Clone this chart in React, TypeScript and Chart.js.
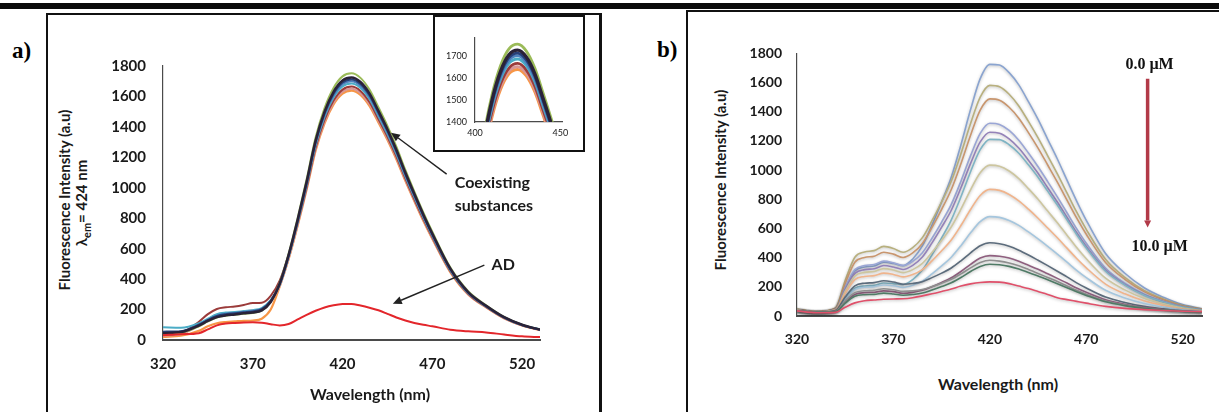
import React, { useEffect, useRef } from "react";
import { Chart, registerables } from "chart.js";

Chart.register(...registerables);

// ---------- shared axes ----------
const WL = [320, 330, 340, 345, 350, 355, 360, 365, 370, 375, 380, 385, 390, 395, 400, 405, 410, 415, 420, 425, 430, 435, 440, 445, 450, 455, 460, 465, 470, 480, 490, 500, 510, 520, 530];
const X_TICKS = [320, 370, 420, 470, 520];
const Y_TICKS = [0, 200, 400, 600, 800, 1000, 1200, 1400, 1600, 1800];
const INSET_X_TICKS = [400, 450];
const INSET_Y_TICKS = [1400, 1500, 1600, 1700];

// ---------- panel a: coexisting substances + AD ----------
const A_BLACK = [45, 52, 95, 125, 150, 162, 168, 175, 180, 195, 250, 370, 560, 790, 1040, 1310, 1500, 1630, 1705, 1725, 1695, 1620, 1505, 1385, 1250, 1100, 960, 825, 700, 470, 315, 225, 150, 100, 68];
const A_GREEN = [40, 48, 90, 122, 148, 160, 166, 172, 178, 192, 252, 376, 569, 802, 1056, 1331, 1524, 1656, 1732, 1752, 1722, 1645, 1529, 1407, 1270, 1117, 975, 838, 711, 477, 320, 228, 152, 101, 69];
const A_NAVY = [55, 58, 100, 132, 158, 170, 176, 182, 188, 203, 258, 367, 556, 784, 1032, 1300, 1489, 1618, 1692, 1712, 1682, 1608, 1494, 1375, 1241, 1092, 953, 819, 695, 466, 313, 223, 149, 99, 67];
const A_BLUE = [50, 55, 98, 130, 160, 172, 178, 185, 190, 205, 258, 365, 552, 779, 1025, 1291, 1478, 1606, 1680, 1700, 1670, 1596, 1483, 1365, 1232, 1084, 946, 813, 690, 463, 310, 222, 148, 99, 67];
const A_CYAN = [83, 80, 110, 140, 170, 180, 184, 190, 196, 210, 262, 361, 547, 772, 1016, 1280, 1466, 1593, 1666, 1685, 1656, 1583, 1470, 1353, 1221, 1075, 938, 806, 684, 459, 308, 220, 147, 98, 70];
const A_DARKRED = [35, 45, 120, 170, 204, 215, 220, 230, 243, 245, 290, 390, 560, 770, 1004, 1264, 1448, 1573, 1645, 1665, 1636, 1563, 1452, 1337, 1206, 1062, 926, 796, 676, 454, 304, 217, 145, 97, 66];
const A_ROSE = [28, 38, 95, 135, 165, 175, 180, 188, 195, 205, 250, 354, 536, 756, 995, 1253, 1435, 1559, 1631, 1650, 1621, 1550, 1440, 1325, 1196, 1052, 918, 789, 670, 450, 301, 215, 143, 96, 65];
const A_ORANGE = [20, 28, 60, 90, 110, 118, 122, 126, 128, 140, 200, 351, 532, 750, 988, 1244, 1424, 1548, 1619, 1638, 1610, 1538, 1429, 1315, 1187, 1045, 912, 783, 665, 446, 299, 214, 142, 95, 65];
const A_AD = [32, 38, 45, 70, 96, 108, 112, 115, 116, 114, 104, 96, 105, 135, 165, 192, 214, 228, 236, 237, 226, 212, 195, 172, 148, 128, 112, 100, 90, 68, 57, 50, 36, 24, 19];

// ---------- panel b: 0.0 -> 10.0 µM ----------
const B_S1 = [45, 30, 47, 190, 309, 336, 343, 368, 360, 345, 391, 480, 623, 783, 953, 1174, 1415, 1627, 1725, 1720, 1668, 1584, 1469, 1347, 1211, 1076, 931, 788, 656, 428, 293, 194, 128, 78, 50];
const B_S2 = [48, 30, 56, 245, 403, 439, 448, 477, 463, 437, 469, 537, 653, 783, 925, 1112, 1319, 1500, 1581, 1571, 1520, 1440, 1334, 1221, 1098, 974, 844, 713, 594, 389, 265, 176, 117, 72, 47];
const B_S3 = [44, 30, 53, 225, 369, 401, 410, 437, 424, 401, 432, 497, 607, 731, 867, 1044, 1239, 1411, 1488, 1479, 1431, 1356, 1257, 1151, 1035, 918, 795, 672, 560, 367, 251, 167, 111, 69, 45];
const B_S4 = [42, 28, 48, 195, 318, 346, 353, 376, 365, 346, 375, 434, 533, 644, 765, 924, 1099, 1252, 1321, 1313, 1272, 1205, 1117, 1023, 921, 817, 708, 599, 499, 329, 225, 151, 101, 64, 42];
const B_S5 = [42, 28, 46, 180, 292, 318, 324, 346, 336, 319, 347, 404, 501, 609, 725, 879, 1046, 1193, 1260, 1253, 1214, 1151, 1068, 978, 879, 781, 677, 572, 477, 314, 216, 145, 97, 62, 41];
const B_S6 = [40, 27, 36, 120, 190, 206, 210, 226, 222, 215, 250, 315, 419, 535, 659, 817, 989, 1140, 1211, 1209, 1174, 1116, 1036, 951, 856, 761, 660, 559, 466, 307, 212, 142, 96, 61, 41];
const B_S7 = [40, 27, 44, 170, 275, 299, 305, 325, 315, 297, 318, 361, 436, 519, 611, 732, 865, 982, 1034, 1027, 994, 942, 873, 800, 719, 639, 554, 469, 392, 259, 179, 121, 83, 54, 37];
const B_S8 = [40, 26, 42, 155, 250, 271, 277, 294, 285, 268, 284, 318, 378, 447, 521, 620, 730, 826, 868, 861, 833, 789, 732, 670, 603, 536, 465, 394, 330, 219, 152, 104, 72, 48, 34];
const B_S9 = [38, 26, 35, 115, 182, 197, 201, 213, 207, 196, 210, 239, 288, 343, 403, 482, 570, 647, 681, 676, 655, 621, 576, 528, 477, 424, 369, 313, 263, 176, 124, 86, 61, 42, 31];
const B_S10 = [38, 25, 38, 130, 207, 225, 229, 242, 233, 218, 223, 235, 263, 294, 329, 378, 433, 482, 502, 495, 478, 451, 418, 382, 345, 307, 268, 227, 192, 130, 93, 66, 49, 35, 28];
const B_S11 = [36, 25, 32, 95, 148, 160, 163, 172, 167, 156, 162, 176, 201, 230, 262, 305, 354, 397, 414, 410, 397, 375, 348, 320, 289, 258, 226, 192, 163, 112, 81, 59, 44, 33, 27];
const B_S12 = [38, 26, 33, 103, 160, 173, 177, 187, 180, 169, 172, 182, 202, 225, 252, 289, 330, 366, 382, 376, 363, 344, 319, 292, 264, 236, 206, 176, 149, 103, 75, 55, 42, 32, 26];
const B_S13 = [36, 25, 31, 88, 135, 146, 148, 157, 151, 142, 147, 157, 178, 202, 228, 264, 305, 340, 355, 351, 340, 322, 298, 274, 248, 221, 193, 166, 141, 97, 71, 53, 40, 31, 26];
const B_S14 = [35, 22, 25, 60, 90, 105, 110, 115, 117, 118, 125, 138, 152, 168, 185, 205, 220, 230, 234, 232, 222, 205, 188, 168, 148, 125, 112, 100, 88, 66, 52, 44, 38, 33, 30];

// ---------- text ----------
const Y_TITLE = "Fluorescence Intensity (a.u)";
const X_TITLE = "Wavelength (nm)";
const NOTE_COEX = ["Coexisting", "substances"];
const NOTE_AD = "AD";
const NOTE_START = "0.0 µM";
const NOTE_END = "10.0 µM";

// ---------- styles ----------
const TICK_FONT = { family: "Lato", weight: "bold" as const, size: 15 };
const TICK_FONT_B = { family: "Lato", weight: "bold" as const, size: 14 };
const INSET_FONT = { family: "Lato", size: 9 };

const A_STYLE = [
  { data: A_AD, color: "#e3262b", width: 2 },
  { data: A_BLACK, color: "#2a2238", width: 2.5 },
  { data: A_NAVY, color: "#273f78", width: 2 },
  { data: A_BLUE, color: "#4f81bd", width: 2 },
  { data: A_CYAN, color: "#4bacc6", width: 2 },
  { data: A_GREEN, color: "#9bbb59", width: 2 },
  { data: A_DARKRED, color: "#9b3b3a", width: 2 },
  { data: A_ROSE, color: "#d99694", width: 2 },
  { data: A_ORANGE, color: "#f79646", width: 2.2 },
];

const B_STYLE = [
  { data: B_S14, color: "#e0506a" },
  { data: B_S13, color: "#4f7b66" },
  { data: B_S12, color: "#8f8f8f" },
  { data: B_S11, color: "#8f5f7f" },
  { data: B_S10, color: "#5c6c7c" },
  { data: B_S9, color: "#a5c6de" },
  { data: B_S8, color: "#f0b48c" },
  { data: B_S7, color: "#cdc69f" },
  { data: B_S6, color: "#7fb4c4" },
  { data: B_S5, color: "#9482b9" },
  { data: B_S4, color: "#9aa6d6" },
  { data: B_S3, color: "#c9966e" },
  { data: B_S2, color: "#b8b07e" },
  { data: B_S1, color: "#8aa4d0" },
];

const toPoints = (vals: number[]) => WL.map((x, i) => ({ x, y: vals[i] }));
const plain = (v: any) => String(v);

function xAxis(ticks: number[], min: number, max: number, font: any, padding: number, height: number, bw: number) {
  return {
    type: "linear" as const,
    min,
    max,
    afterBuildTicks: (ax: any) => {
      ax.ticks = ticks.map((v) => ({ value: v }));
    },
    afterFit: (ax: any) => {
      ax.height = height;
    },
    grid: { display: false, drawTicks: false },
    border: { display: true, color: "#4a4a4a", width: bw },
    ticks: { font, color: "#1a1a1a", padding, maxRotation: 0, autoSkip: false, callback: plain },
  };
}

function yAxis(ticks: number[], min: number, max: number, font: any, padding: number, width: number, bw: number) {
  return {
    type: "linear" as const,
    min,
    max,
    afterBuildTicks: (ax: any) => {
      ax.ticks = ticks.map((v) => ({ value: v }));
    },
    afterFit: (ax: any) => {
      ax.width = width;
    },
    grid: { display: false, drawTicks: false },
    border: { display: true, color: "#4a4a4a", width: bw },
    ticks: { font, color: "#1a1a1a", padding, autoSkip: false, callback: plain },
  };
}

function drawArrow(ctx: CanvasRenderingContext2D, x1: number, y1: number, x2: number, y2: number, color: string, lw: number, hl: number, hw: number) {
  const ang = Math.atan2(y2 - y1, x2 - x1);
  const bx = x2 - Math.cos(ang) * hl;
  const by = y2 - Math.sin(ang) * hl;
  ctx.save();
  ctx.strokeStyle = color;
  ctx.fillStyle = color;
  ctx.lineWidth = lw;
  ctx.beginPath();
  ctx.moveTo(x1, y1);
  ctx.lineTo(bx, by);
  ctx.stroke();
  ctx.beginPath();
  ctx.moveTo(x2, y2);
  ctx.lineTo(bx + Math.sin(ang) * hw, by - Math.cos(ang) * hw);
  ctx.lineTo(bx - Math.sin(ang) * hw, by + Math.cos(ang) * hw);
  ctx.closePath();
  ctx.fill();
  ctx.restore();
}

// annotation anchors (data units)
const A_COEX_POS = { x: 482.5, y1: 1035, y2: 880 };
const A_COEX_ARROW = { x1: 478, y1: 1090, x2: 447, y2: 1362 };
const A_AD_POS = { x: 503, y: 492 };
const A_AD_ARROW = { x1: 499, y1: 492, x2: 448, y2: 238 };
const B_START_POS = { x: 502.8, y: 1720 };
const B_END_POS = { x: 508, y: 473 };
const B_ARROW = { x: 501.8, y1: 1627, y2: 607 };

const notesA = {
  id: "notesA",
  afterDraw(chart: any) {
    const { ctx, scales } = chart;
    const X = (v: number) => scales.x.getPixelForValue(v);
    const Y = (v: number) => scales.y.getPixelForValue(v);
    ctx.save();
    ctx.font = "bold 16px Lato";
    ctx.fillStyle = "#1a1a1a";
    ctx.textAlign = "left";
    ctx.textBaseline = "middle";
    ctx.fillText(NOTE_COEX[0], X(A_COEX_POS.x), Y(A_COEX_POS.y1));
    ctx.fillText(NOTE_COEX[1], X(A_COEX_POS.x), Y(A_COEX_POS.y2));
    ctx.fillText(NOTE_AD, X(A_AD_POS.x), Y(A_AD_POS.y));
    ctx.restore();
    drawArrow(ctx, X(A_COEX_ARROW.x1), Y(A_COEX_ARROW.y1), X(A_COEX_ARROW.x2), Y(A_COEX_ARROW.y2), "#222", 1.4, 9, 4);
    drawArrow(ctx, X(A_AD_ARROW.x1), Y(A_AD_ARROW.y1), X(A_AD_ARROW.x2), Y(A_AD_ARROW.y2), "#222", 1.4, 9, 4);
  },
};

const notesB = {
  id: "notesB",
  afterDraw(chart: any) {
    const { ctx, scales } = chart;
    const X = (v: number) => scales.x.getPixelForValue(v);
    const Y = (v: number) => scales.y.getPixelForValue(v);
    ctx.save();
    ctx.font = "bold 16px 'Liberation Serif'";
    ctx.fillStyle = "#111";
    ctx.textAlign = "center";
    ctx.textBaseline = "middle";
    ctx.fillText(NOTE_START, X(B_START_POS.x), Y(B_START_POS.y));
    ctx.fillText(NOTE_END, X(B_END_POS.x), Y(B_END_POS.y));
    ctx.restore();
    drawArrow(ctx, X(B_ARROW.x), Y(B_ARROW.y1), X(B_ARROW.x), Y(B_ARROW.y2), "#b23a48", 3.5, 7, 3.5);
  },
};

const glow = {
  id: "glow",
  beforeDatasetsDraw(chart: any) {
    const c = chart.ctx;
    c.save();
    c.shadowColor = "rgba(60,60,60,0.35)";
    c.shadowBlur = 3;
    c.shadowOffsetY = 1;
  },
  afterDatasetsDraw(chart: any) {
    chart.ctx.restore();
  },
};

function ChartCanvas({ left, top, width, height, make }: any) {
  const ref = useRef<HTMLCanvasElement | null>(null);
  useEffect(() => {
    const chart = new Chart(ref.current as HTMLCanvasElement, make());
    return () => chart.destroy();
  }, []);
  return (
    <canvas
      ref={ref}
      width={width}
      height={height}
      style={{ position: "absolute", left, top, width, height }}
    />
  );
}

const baseOpts = {
  responsive: false,
  animation: false as const,
  plugins: { legend: { display: false }, tooltip: { enabled: false } },
  elements: { point: { radius: 0 } },
};

function makeA() {
  return {
    type: "line" as const,
    data: {
      datasets: A_STYLE.map((s) => ({
        data: toPoints(s.data),
        borderColor: s.color,
        borderWidth: s.width,
        cubicInterpolationMode: "monotone" as const,
        pointRadius: 0,
      })),
    },
    options: {
      ...baseOpts,
      layout: { padding: { top: 17, right: 20, left: 0, bottom: 0 } },
      scales: {
        x: xAxis(X_TICKS, 320, 530, TICK_FONT, 15, 60, 2),
        y: yAxis(Y_TICKS, 0, 1800, TICK_FONT, 17, 63, 1.2),
      },
    },
    plugins: [notesA],
  };
}

function makeInset() {
  return {
    type: "line" as const,
    data: {
      datasets: A_STYLE.slice(1).map((s) => ({
        data: toPoints(s.data),
        borderColor: s.color,
        borderWidth: s.width + 0.8,
        cubicInterpolationMode: "monotone" as const,
        pointRadius: 0,
      })),
    },
    options: {
      ...baseOpts,
      layout: { padding: { top: 20, right: 20, left: 0, bottom: 0 } },
      scales: {
        x: xAxis(INSET_X_TICKS, 400, 451, INSET_FONT, 6, 27, 1.2),
        y: yAxis(INSET_Y_TICKS, 1400, 1780, INSET_FONT, 8, 39, 1.2),
      },
    },
  };
}

function makeB() {
  return {
    type: "line" as const,
    data: {
      datasets: B_STYLE.map((s) => ({
        data: toPoints(s.data),
        borderColor: s.color,
        borderWidth: 1.6,
        cubicInterpolationMode: "monotone" as const,
        pointRadius: 0,
      })),
    },
    options: {
      ...baseOpts,
      layout: { padding: { top: 16, right: 18, left: 0, bottom: 0 } },
      scales: {
        x: xAxis(X_TICKS, 320, 530, TICK_FONT_B, 15, 54, 2),
        y: yAxis(Y_TICKS, 0, 1800, TICK_FONT_B, 15, 57, 1.2),
      },
    },
    plugins: [glow, notesB],
  };
}

const rot = (cx: number, cy: number, extra: any = {}) => ({
  position: "absolute" as const,
  left: cx,
  top: cy,
  transform: "translate(-50%, -50%) rotate(-90deg)",
  whiteSpace: "nowrap" as const,
  fontFamily: "Lato",
  fontWeight: 700,
  fontSize: 15,
  color: "#1a1a1a",
  lineHeight: "18px",
  ...extra,
});

export default function App() {
  return (
    <div
      style={{
        position: "fixed",
        left: 0,
        top: 0,
        width: 1219,
        height: 412,
        overflow: "hidden",
        background: "#fff",
      }}
    >
      {/* top rule */}
      <div style={{ position: "absolute", left: 0, top: 3, width: 1219, height: 6, background: "#0b0b0b" }} />

      {/* panel a frame */}
      <div
        style={{
          position: "absolute",
          left: 46,
          top: 13,
          width: 551,
          height: 420,
          borderLeft: "2px solid #111",
          borderTop: "2px solid #111",
          borderRight: "3px solid #111",
        }}
      />
      {/* panel b frame */}
      <div
        style={{
          position: "absolute",
          left: 686,
          top: 10,
          width: 600,
          height: 420,
          borderLeft: "2px solid #111",
          borderTop: "2px solid #111",
        }}
      />

      <div style={{ position: "absolute", left: 12, top: 38, fontFamily: "'Liberation Serif'", fontWeight: 700, fontSize: 23 }}>a)</div>
      <div style={{ position: "absolute", left: 657, top: 37, fontFamily: "'Liberation Serif'", fontWeight: 700, fontSize: 23 }}>b)</div>

      {/* panel a */}
      <ChartCanvas left={100} top={40} width={460} height={360} make={makeA} />
      <div style={rot(64, 200)}>{Y_TITLE}</div>
      <div style={rot(84, 203)}>
        λ<sub style={{ fontSize: 11 }}>em</sub>= 424 nm
      </div>
      <div
        style={{
          position: "absolute",
          left: 370,
          top: 393,
          transform: "translate(-50%, -50%)",
          fontFamily: "Lato",
          fontWeight: 700,
          fontSize: 16,
          whiteSpace: "nowrap",
          color: "#1a1a1a",
        }}
      >
        {X_TITLE}
      </div>

      {/* inset */}
      <div
        style={{
          position: "absolute",
          left: 433,
          top: 15,
          width: 148,
          height: 133,
          border: "2px solid #111",
          background: "#fff",
        }}
      />
      <ChartCanvas left={436} top={18} width={146} height={131} make={makeInset} />

      {/* panel b */}
      <ChartCanvas left={740} top={30} width={480} height={340} make={makeB} />
      <div style={rot(720, 180)}>{Y_TITLE}</div>
      <div
        style={{
          position: "absolute",
          left: 998,
          top: 383,
          transform: "translate(-50%, -50%)",
          fontFamily: "Lato",
          fontWeight: 700,
          fontSize: 16,
          whiteSpace: "nowrap",
          color: "#1a1a1a",
        }}
      >
        {X_TITLE}
      </div>
    </div>
  );
}
